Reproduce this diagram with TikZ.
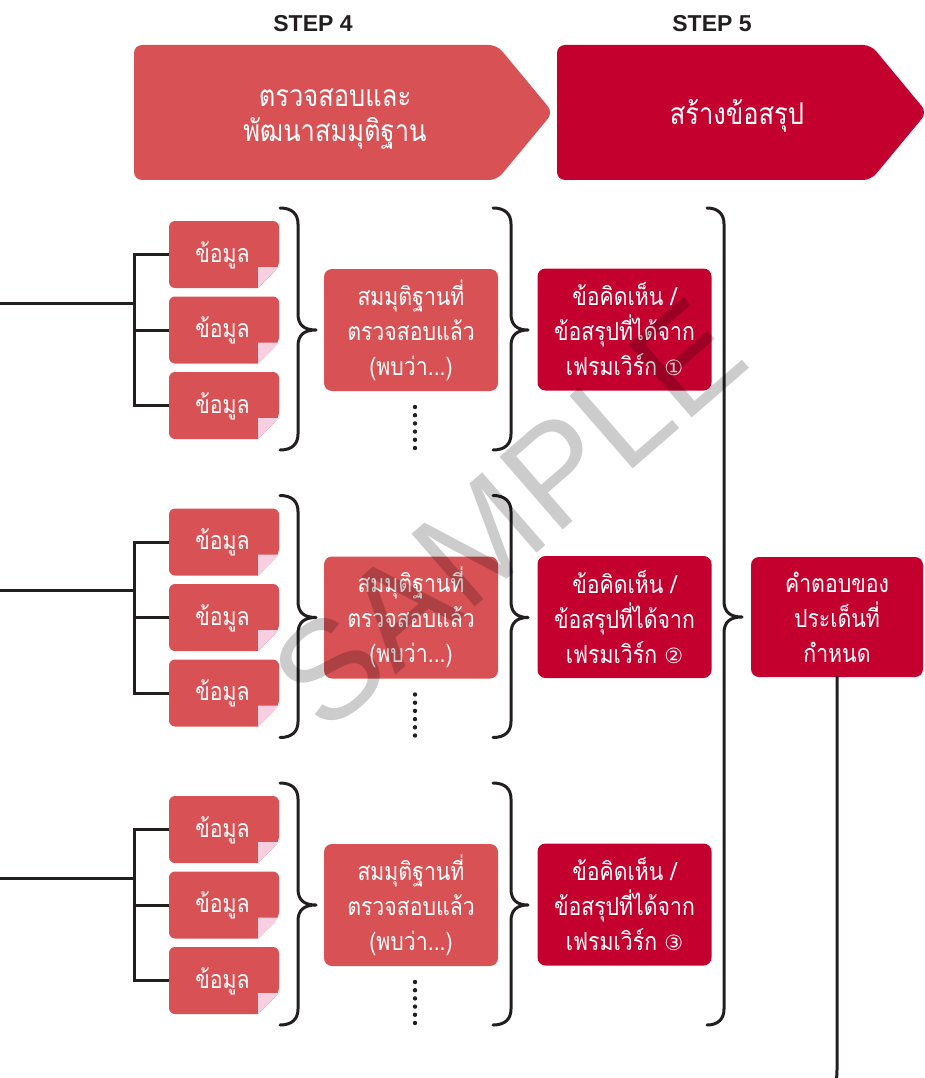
\documentclass[tikz,border=0pt]{standalone}
\usepackage{fontspec}
\newfontfamily\thai[Script=Thai, FakeStretch=0.85]{Loma}
\newfontfamily\djv{DejaVu Sans}
\newfontfamily\stepf{Liberation Sans}
\newfontfamily\wmf{Liberation Sans}
\definecolor{lred}{HTML}{D85154}
\definecolor{crim}{HTML}{C4002F}
\definecolor{pinkf}{HTML}{F7CFE0}
\definecolor{ink}{HTML}{231F20}
\newcommand\datanote[3]{%
  \fill[lred, rounded corners=6pt] (#2-55,#3-33.5) -- (#2+55,#3-33.5) -- (#2+55,#3+12.5) [sharp corners] -- (#2+34,#3+33.5) [rounded corners=6pt] -- (#2-55,#3+33.5) -- cycle;
  \fill[pinkf] (#2+34,#3+12.5) -- (#2+55,#3+12.5) -- (#2+34,#3+33.5) -- cycle;
  \node[datatext] (#1) at (#2-1.5,#3+0.5) {ข้อมูล};
}
\newcommand\cbrace[7]{%
  \coordinate (#7) at (#3,#5);
  \draw[brace] (#1,#4) .. controls (#2-6,#4) and (#2,#4+6) .. (#2,#4+16) -- (#2,#5-16) .. controls (#2,#5-5) and (#2+6,#5) .. (#7) .. controls (#2+6,#5) and (#2,#5+5) .. (#2,#5+16) -- (#2,#6-16) .. controls (#2,#6-6) and (#2-6,#6) .. (#1,#6);
}
\begin{document}
\begin{tikzpicture}[x=1pt,y=-1pt,
  line/.style={draw=ink, line width=3pt},
  brace/.style={draw=ink, line width=3pt, line cap=round, line join=round},
  thaitext/.style={text=white, font=\thai\fontsize{25}{35}\selectfont, align=center, inner sep=0pt},
  bigthai/.style={thaitext, font=\thai\fontsize{30}{35}\selectfont},
  datatext/.style={thaitext},
  hypbox/.style={thaitext, fill=lred, rounded corners=8pt, minimum width=174pt, minimum height=122pt},
  conbox/.style={hypbox, fill=crim},
  steptext/.style={text=ink, font=\stepf\bfseries\fontsize{23}{28}\selectfont},
  dot/.style={circle, fill=ink, inner sep=0pt, minimum size=4.4pt}
]
\useasboundingbox (0,0) rectangle (924,1078);
% step headers
\node[steptext] (h4) at (313,24) {STEP 4};
\node[steptext] (h5) at (712,24) {STEP 5};
\fill[lred, rounded corners=8pt] (134,45) -- (497,45) -- (553,112.5) -- (497,180) -- (134,180) -- cycle;
\fill[crim, rounded corners=8pt] (557,45) -- (871,45) -- (927,112.5) -- (871,180) -- (557,180) -- cycle;
\node[bigthai] (s4) at (335,119.5) {ตรวจสอบและ\\พัฒนาสมมุติฐาน};
\node[bigthai] (s5) at (737,116) {สร้างข้อสรุป};
% groups
\foreach \o/\n/\c in {0/1/①, 287.5/2/②, 575/3/③}{
  \datanote{d\n a}{224}{254.5+\o}
  \datanote{d\n b}{224}{330+\o}
  \datanote{d\n c}{224}{405.5+\o}
  \coordinate (in\n) at (0,303+\o);
  \coordinate (j\n) at (134,303+\o);
  \draw[line] (in\n) -- (j\n);
  \draw[line] (169,254.5+\o) -| (j\n) |- (169,405.5+\o);
  \draw[line] (169,330+\o) -- (134,330+\o);
  \cbrace{280}{298}{316}{208+\o}{330+\o}{450+\o}{ba\n}
  \node[hypbox] (h\n) at (411,330+\o) {สมมุติฐานที่\\ตรวจสอบแล้ว\\(พบว่า...)};
  \foreach \k in {0,...,5}{\node[dot] at (415,407+\o+8.2*\k) {};}
  \cbrace{493}{511}{528}{208+\o}{330+\o}{450+\o}{bb\n}
  \node[conbox] (c\n) at (624.5,329.5+\o) {ข้อคิดเห็น /\\ข้อสรุปที่ได้จาก\\เฟรมเวิร์ก {\djv\fontsize{21}{35}\selectfont\c}};
}
% big brace
\cbrace{707}{724}{742}{208}{617}{1025}{bbig}
\node[conbox, minimum width=172pt, minimum height=120pt] (fin) at (837,617) {คำตอบของ\\ประเด็นที่\\กำหนด};
\coordinate (fend) at (822,1082);
\draw[brace] (fin.south) -- ([yshift=14pt]fin.south |- fend) .. controls (fin.south |- fend) .. (fend);
% watermark
\node[rotate=41, font=\wmf\fontsize{140}{140}\selectfont, text=black, text opacity=0.2] (wm) at (508,514) {SAMPLE};
\end{tikzpicture}
\end{document}
